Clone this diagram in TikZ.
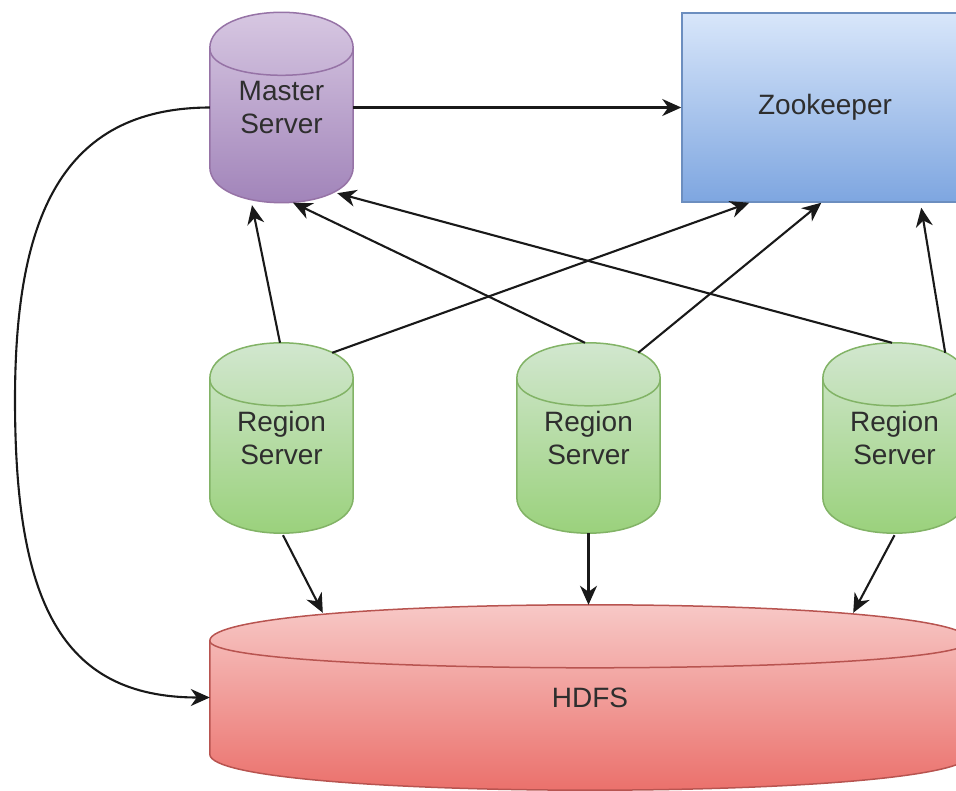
\documentclass[tikz,border=0pt]{standalone}
\usepackage{fontspec}
\setmainfont{Liberation Sans}
\usetikzlibrary{arrows.meta,backgrounds}

\definecolor{labelgray}{HTML}{2E2E2E}
\definecolor{msTop}{HTML}{DACBE4}
\definecolor{msBot}{HTML}{9E80B7}
\definecolor{msLine}{HTML}{9673A6}
\definecolor{zkTop}{HTML}{D8E6FA}
\definecolor{zkBot}{HTML}{7EA6E0}
\definecolor{zkLine}{HTML}{6C8EBF}
\definecolor{rsTop}{HTML}{D5E8D4}
\definecolor{rsBot}{HTML}{97D077}
\definecolor{rsLine}{HTML}{82B366}
\definecolor{hdTop}{HTML}{F8CECC}
\definecolor{hdBot}{HTML}{EA6B66}
\definecolor{hdLine}{HTML}{B85450}

\tikzset{
  box/.style={rectangle, inner sep=0pt, align=center, text=labelgray,
    font=\fontsize{28}{33}\selectfont},
  server/.style={box, minimum width=143pt, minimum height=190pt},
  link/.style={line width=2.1pt, draw=black!90,
    -{Stealth[length=19pt,width=17pt,inset=6pt]}},
}

% cylinder body and top rim drawn around a named node
% #1 node, #2 rim depth, #3 top colour, #4 bottom colour, #5 outline
\newcommand\drawcylinder[5]{%
  \path[top color=#3, bottom color=#4, draw=#5, line width=1.5pt]
    ([yshift=-#2]#1.north west) .. controls +(0,{4/3*#2}) and +(0,{4/3*#2}) ..
    ([yshift=-#2]#1.north east) -- ([yshift=#2]#1.south east)
    .. controls +(0,{-4/3*#2}) and +(0,{-4/3*#2}) .. ([yshift=#2]#1.south west) -- cycle;
  \draw[#5, line width=1.5pt] ([yshift=-#2]#1.north west)
    .. controls +(0,-#2) and +(0,-#2) .. ([yshift=-#2]#1.north east);
}

\begin{document}
\begin{tikzpicture}[x=1pt,y=1pt]
\useasboundingbox (0,0) rectangle (956,790);
\clip (0,0) rectangle (956,790);

% nodes
\node[server] (m)  at (281.5,682.5) {Master\\Server};
\node[box, draw=zkLine, line width=1.5pt, top color=zkTop, bottom color=zkBot,
      minimum width=286pt, minimum height=189pt] (z) at (825,682.5) {Zookeeper};
\node[server] (r1) at (281.5,352) {Region\\Server};
\node[server] (r2) at (588.5,352) {Region\\Server};
\node[server] (r3) at (894.5,352) {Region\\Server};
\node[box, minimum width=760pt, minimum height=185pt] (h) at (590,92.5) {HDFS};

% cylinder bodies behind the labels
\begin{scope}[on background layer]
  \clip (0,0) rectangle (956,790);
  \drawcylinder{m}{36pt}{msTop}{msBot}{msLine}
  \drawcylinder{r1}{36pt}{rsTop}{rsBot}{rsLine}
  \drawcylinder{r2}{36pt}{rsTop}{rsBot}{rsLine}
  \drawcylinder{r3}{36pt}{rsTop}{rsBot}{rsLine}
  \drawcylinder{h}{36pt}{hdTop}{hdBot}{hdLine}
\end{scope}

% master links
\draw[link] (m.east) -- (z.west);
\draw[link] (m.west) .. controls (60,682) and (15,570) .. (15,390)
                     .. controls (15,190) and (60,92.5) .. (h.west);

% region servers report to the master
\draw[link] ([xshift=-1.5pt]r1.north) -- ([xshift=-29.5pt,yshift=-2.5pt]m.south);
\draw[link] ([xshift=-3.5pt]r2.north) -- ([xshift=11.5pt]m.south);
\draw[link] ([xshift=-2.5pt]r3.north) -- ([xshift=-16pt,yshift=9.5pt]m.south east);

% region servers register with zookeeper
\draw[link] ([xshift=-21pt,yshift=-10pt]r1.north east) -- ([xshift=68pt]z.south west);
\draw[link] ([xshift=-22pt,yshift=-10pt]r2.north east) -- ([xshift=140pt]z.south west);
\draw[link] ([xshift=-21pt,yshift=-10pt]r3.north east) -- ([xshift=240pt,yshift=-5pt]z.south west);

% region servers write to HDFS
\draw[link] ([xshift=1.5pt,yshift=-2pt]r1.south) -- ([xshift=113pt,yshift=-8pt]h.north west);
\draw[link] (r2.south) -- (r2.south |- h.north);
\draw[link] ([yshift=-2pt]r3.south) -- ([xshift=-117pt,yshift=-8pt]h.north east);
\end{tikzpicture}
\end{document}
